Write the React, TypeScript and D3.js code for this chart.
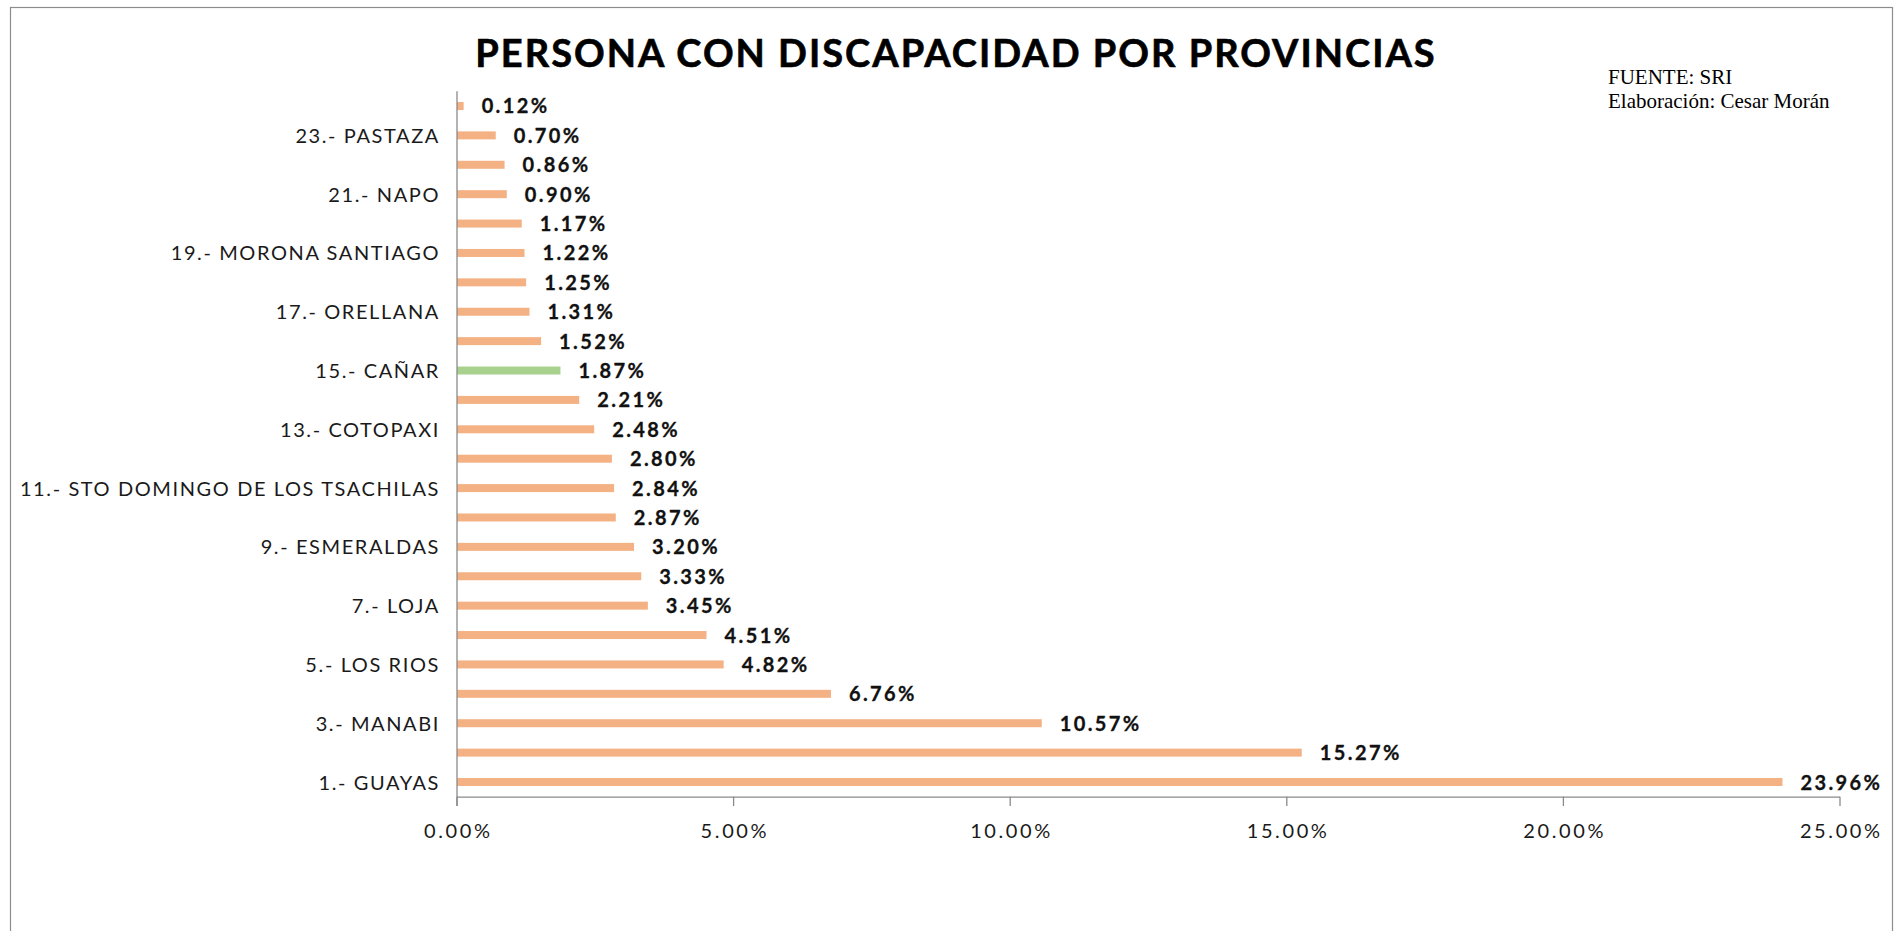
import React from "react";
import * as d3 from "d3";

// Data: ordered from 1 (bottom) to 24 (top)
const categories: string[] = [
  "1.- GUAYAS", "2.-", "3.- MANABI", "4.-", "5.- LOS RIOS", "6.-",
  "7.- LOJA", "8.-", "9.- ESMERALDAS", "10.-", "11.- STO DOMINGO DE LOS TSACHILAS", "12.-",
  "13.- COTOPAXI", "14.-", "15.- CAÑAR", "16.-", "17.- ORELLANA", "18.-",
  "19.- MORONA SANTIAGO", "20.-", "21.- NAPO", "22.-", "23.- PASTAZA", "24.-",
];
const values: number[] = [
  23.96, 15.27, 10.57, 6.76, 4.82, 4.51, 3.45, 3.33, 3.2, 2.87, 2.84, 2.8,
  2.48, 2.21, 1.87, 1.52, 1.31, 1.25, 1.22, 1.17, 0.9, 0.86, 0.7, 0.12,
];
const highlighted: string[] = ["15.- CAÑAR"];
const xTicks: number[] = [0, 5, 10, 15, 20, 25];
const shownLabels: string[] = categories.filter((_, i) => i % 2 === 0);

const title = "PERSONA CON DISCAPACIDAD POR PROVINCIAS";
const sourceLines = ["FUENTE: SRI", "Elaboración: Cesar Morán"];

export default function App() {
  const W = 1904, H = 931;
  const x0 = 457, x1 = 1840;
  const yTop = 91.3, yBot = 796.7;
  const x = d3.scaleLinear().domain([0, 25]).range([x0, x1]);
  const topDown = categories.slice().reverse();
  const y = d3.scaleBand<string>().domain(topDown).range([yTop, yBot])
    .paddingInner(0.728).paddingOuter(0.364);
  const bh = y.bandwidth();
  const fmt = (v: number) => v.toFixed(2) + "%";
  const orange = "#F4B183", green = "#A9D18E", axisColor = "#8a8a8a";
  const calibri = "Lato, 'Open Sans', sans-serif";

  React.useEffect(() => {
    document.body.style.margin = "0";
    document.body.style.overflow = "hidden";
  }, []);

  return (
    <svg width={W} height={H} style={{ position: "absolute", left: 0, top: 0, background: "#fff" }}>
      <rect x={10.5} y={7.5} width={1882} height={940} fill="#fff" stroke="#8c8c8c" strokeWidth={1.2} />
      <text x={956} y={67} textAnchor="middle" fontFamily={calibri} fontWeight={700}
        fontSize={38} letterSpacing={2} fill="#000" stroke="#000" strokeWidth={0.6}>{title}</text>
      {sourceLines.map((s, i) => (
        <text key={s} x={1608} y={84 + i * 24} fontFamily="'Liberation Serif', 'Times New Roman', serif"
          fontSize={21} fill="#000">{s}</text>
      ))}
      {/* bars */}
      {categories.map((c, i) => (
        <rect key={c} x={x(0)} y={y(c)!} width={x(values[i]) - x(0)} height={bh}
          fill={highlighted.includes(c) ? green : orange} />
      ))}
      {/* value labels */}
      {categories.map((c, i) => (
        <text key={"v" + c} x={x(values[i]) + 18} y={y(c)! + bh / 2 + 7.5} fontFamily={calibri}
          fontWeight={700} fontSize={20} letterSpacing={2.4} fill="#111" stroke="#111" strokeWidth={0.3}>{fmt(values[i])}</text>
      ))}
      {/* category labels */}
      {shownLabels.map((c) => (
        <text key={"c" + c} x={440} y={y(c)! + bh / 2 + 7.5} textAnchor="end" fontFamily={calibri}
          fontSize={20} letterSpacing={1.6} fill="#1a1a1a">{c}</text>
      ))}
      {/* axes */}
      <line x1={x0} x2={x0} y1={yTop} y2={806} stroke={axisColor} strokeWidth={1.3} />
      <line x1={x0} x2={x1} y1={yBot + 0.5} y2={yBot + 0.5} stroke={axisColor} strokeWidth={1.3} />
      {xTicks.map((t) => (
        <g key={"t" + t}>
          <line x1={x(t)} x2={x(t)} y1={yBot} y2={806} stroke={axisColor} strokeWidth={1.3} />
          <text x={x(t) + 1.3} y={838} textAnchor="middle" fontFamily={calibri} fontSize={20}
            letterSpacing={2.6} fill="#1a1a1a">{fmt(t)}</text>
        </g>
      ))}
    </svg>
  );
}
